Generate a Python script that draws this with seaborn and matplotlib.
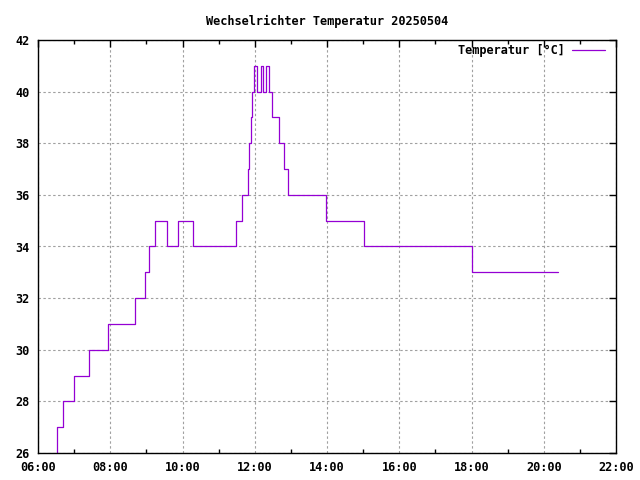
import matplotlib
matplotlib.use("Agg")
import matplotlib.pyplot as plt
import matplotlib.dates as mdates
import seaborn as sns
import pandas as pd

# Data
times = ["06:31", "06:32", "06:42", "07:00", "07:24", "07:56", "08:41", "08:57",
         "09:05", "09:15", "09:34", "09:53", "10:17", "11:29", "11:38", "11:48",
         "11:51", "11:53", "11:55", "11:58", "12:04", "12:10", "12:13", "12:18",
         "12:23", "12:29", "12:40", "12:48", "12:56", "13:59", "15:02", "18:00",
         "20:23"]
temps = [26, 27, 28, 29, 30, 31, 32, 33,
         34, 35, 34, 35, 34, 35, 36, 37,
         38, 39, 40, 41, 40, 41, 40, 41,
         40, 39, 38, 37, 36, 35, 34, 33,
         33]
series_label = "Temperatur [°C]"
title = "Wechselrichter Temperatur 20250504"
day = "2025-05-04"

df = pd.DataFrame({
    "time": pd.to_datetime([f"{day} {t}" for t in times]),
    "temp": temps,
})

sns.set_style("white")
plt.rcParams["font.family"] = ["DejaVu Sans Mono"]
plt.rcParams["font.weight"] = "bold"
plt.rcParams["text.color"] = "black"
FS = 8.6

fig = plt.figure(figsize=(6.4, 4.8), dpi=100)
ax = fig.add_axes([38 / 640, 1 - 453 / 480, (616 - 38) / 640, (453 - 40) / 480])

sns.lineplot(data=df, x="time", y="temp", ax=ax, color="#9400D3", linewidth=0.9,
             drawstyle="steps-post", label=series_label)

ax.set_xlim(pd.Timestamp(f"{day} 06:00"), pd.Timestamp(f"{day} 22:00"))
ax.set_ylim(26, 42)
ax.set_yticks(range(26, 43, 2))
ax.xaxis.set_major_locator(mdates.HourLocator(byhour=range(0, 24, 2)))
ax.xaxis.set_minor_locator(mdates.HourLocator(byhour=range(1, 24, 2)))
ax.xaxis.set_major_formatter(mdates.DateFormatter("%H:%M"))

ax.set_xlabel("")
ax.set_ylabel("")
ax.set_title(title, fontsize=FS, fontweight="bold", pad=11, color="black")

ax.grid(True, which="major", color="#a0a0a0", linestyle=(0, (2.2, 2.2)), linewidth=0.8)
ax.tick_params(axis="both", which="major", direction="in", length=5, width=1,
               top=True, right=True, labelsize=FS, pad=6, colors="black")
ax.tick_params(axis="x", which="minor", direction="in", length=3, width=1,
               top=True, bottom=True, colors="black")
for lab in ax.get_xticklabels() + ax.get_yticklabels():
    lab.set_fontweight("bold")
for s in ax.spines.values():
    s.set_color("black")
    s.set_linewidth(1.0)

leg = ax.legend(loc="upper right", bbox_to_anchor=(1 - 6 / 578, 1 + 1 / 413),
                frameon=False, markerfirst=False,
                prop={"size": FS, "weight": "bold"}, handlelength=2.8,
                borderaxespad=0.0, handletextpad=0.6, labelcolor="black")

fig.savefig("out.png", dpi=100)
